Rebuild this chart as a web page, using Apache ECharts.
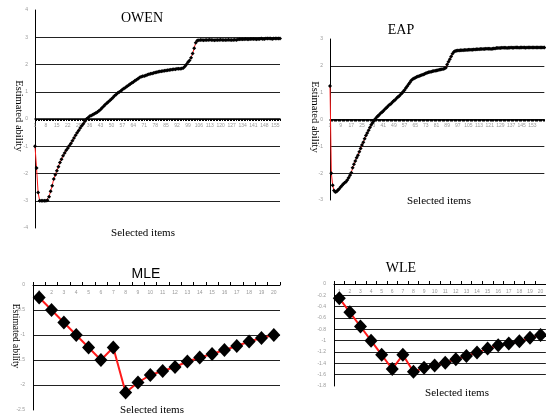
<!DOCTYPE html>
<html><head><meta charset="utf-8">
<script src="https://cdn.jsdelivr.net/npm/echarts@6/dist/echarts.min.js"></script>
<style>html,body{margin:0;padding:0;background:#fff}#c{width:546px;height:415px}</style>
</head><body><div id="c"></div>
<script>
// ---- data ----
const owenValues = [
-1.0,-1.8,-2.7,-3.0,-3.0,-3.0,-3.0,-3.0,-2.98,-2.85,
-2.65,-2.45,-2.2,-2.05,-1.9,-1.75,-1.6,-1.48,-1.35,-1.25,
-1.15,-1.07,-0.98,-0.9,-0.8,-0.7,-0.6,-0.5,-0.42,-0.33,
-0.25,-0.17,-0.08,0.0,0.05,0.1,0.13,0.16,0.19,0.22,
0.26,0.3,0.35,0.41,0.47,0.53,0.58,0.63,0.68,0.73,
0.79,0.85,0.9,0.95,0.99,1.03,1.08,1.12,1.16,1.2,
1.24,1.28,1.32,1.36,1.4,1.44,1.48,1.52,1.55,1.57,
1.58,1.6,1.62,1.64,1.66,1.67,1.69,1.71,1.72,1.73,
1.74,1.75,1.76,1.77,1.78,1.79,1.8,1.81,1.82,1.83,
1.83,1.84,1.84,1.84,1.85,1.87,1.93,2.0,2.08,2.15,
2.25,2.4,2.6,2.8,2.88,2.89,2.9,2.9,2.89,2.9,
2.9,2.9,2.91,2.9,2.9,2.89,2.9,2.9,2.9,2.91,
2.9,2.9,2.9,2.9,2.91,2.9,2.9,2.9,2.91,2.9,
2.92,2.93,2.93,2.93,2.93,2.94,2.93,2.93,2.94,2.94,
2.94,2.94,2.93,2.94,2.94,2.95,2.94,2.94,2.95,2.95,
2.95,2.95,2.94,2.95,2.95,2.95,2.95,2.95
];
const eapValues = [
1.25,-2.0,-2.45,-2.65,-2.7,-2.68,-2.63,-2.58,-2.52,-2.46,
-2.4,-2.36,-2.32,-2.25,-2.17,-2.08,-1.98,-1.8,-1.67,-1.55,
-1.43,-1.33,-1.2,-1.08,-0.95,-0.85,-0.72,-0.6,-0.5,-0.4,
-0.3,-0.2,-0.12,-0.05,0.02,0.08,0.13,0.18,0.23,0.27,
0.32,0.37,0.42,0.47,0.52,0.56,0.6,0.65,0.7,0.74,
0.79,0.84,0.88,0.93,0.98,1.04,1.1,1.17,1.24,1.31,
1.38,1.45,1.5,1.53,1.56,1.58,1.6,1.62,1.64,1.66,
1.68,1.7,1.72,1.74,1.76,1.77,1.78,1.8,1.81,1.82,
1.83,1.84,1.85,1.86,1.87,1.88,1.9,1.93,2.05,2.15,
2.25,2.35,2.45,2.52,2.55,2.56,2.57,2.57,2.58,2.58,
2.58,2.59,2.59,2.59,2.6,2.6,2.6,2.6,2.61,2.61,
2.62,2.62,2.62,2.63,2.63,2.63,2.63,2.64,2.64,2.64,
2.64,2.63,2.64,2.65,2.65,2.66,2.66,2.66,2.66,2.67,
2.67,2.67,2.67,2.66,2.67,2.67,2.68,2.67,2.67,2.68,
2.68,2.68,2.67,2.68,2.68,2.68,2.68,2.67,2.68,2.68,
2.68,2.68,2.68,2.68,2.68,2.68,2.68,2.68,2.68,2.68,
2.68,2.68
];
const mleValues = [-0.25,-0.5,-0.75,-1.0,-1.25,-1.5,-1.25,-2.15,-1.95,-1.8,-1.72,-1.64,-1.53,-1.45,-1.38,-1.3,-1.22,-1.13,-1.06,-1.0];
const wleValues = [-0.25,-0.5,-0.75,-1.0,-1.25,-1.5,-1.25,-1.55,-1.48,-1.44,-1.39,-1.33,-1.27,-1.21,-1.14,-1.08,-1.05,-1.01,-0.95,-0.9];
const owenItems = owenValues.map((_, i) => String(i + 1));
const eapItems = eapValues.map((_, i) => String(i + 1));
const mleItems = mleValues.map((_, i) => String(i + 1));
const wleItems = wleValues.map((_, i) => String(i + 1));
const lastEapLabel = 153;
const titles = ['OWEN', 'EAP', 'MLE', 'WLE'];
const xName = 'Selected items';
const yName = 'Estimated ability';

// ---- chart ----
const chart = echarts.init(document.getElementById('c'), null, {renderer: 'canvas'});
const serif = '"Liberation Serif", "Times New Roman", serif';
const tickLbl = {fontSize: 5, color: '#999', fontFamily: 'Liberation Sans'};
function yAx(gi, min, max, interval, margin) {
  return {
    gridIndex: gi, type: 'value', min, max, interval,
    axisLine: {show: true, lineStyle: {color: '#000', width: 1}},
    axisTick: {show: false},
    axisLabel: Object.assign({margin: margin}, tickLbl),
    splitLine: {show: true, showMinLine: false, showMaxLine: false, lineStyle: {color: '#222', width: 1}}
  };
}
function xBig(gi, data, labInt, offset, maxLab) {
  return {
    gridIndex: gi, type: 'category', data, boundaryGap: false, position: 'bottom', offset: offset,
    axisLine: {onZero: false, lineStyle: {color: '#000', width: 1.5}},
    axisTick: {show: true, interval: 0, length: 2, inside: false, lineStyle: {color: '#000'}},
    axisLabel: Object.assign({interval: labInt, margin: 4,
      formatter: (v) => (maxLab && +v > maxLab) ? '' : v}, tickLbl),
    splitLine: {show: false}
  };
}
function xSmall(gi, data) {
  return {
    gridIndex: gi, type: 'category', data, boundaryGap: true, position: 'top',
    axisLine: {onZero: false, lineStyle: {color: '#000', width: 1}},
    axisTick: {show: true, interval: 0, length: 3, inside: false, lineStyle: {color: '#000'}},
    axisLabel: Object.assign({interval: 0, inside: true, margin: 5}, tickLbl),
    splitLine: {show: false}
  };
}
function lineSeries(gi, data, size, lw) {
  return {
    type: 'line', xAxisIndex: gi, yAxisIndex: gi, data,
    symbol: 'diamond', symbolSize: size, showAllSymbol: true,
    itemStyle: {color: '#000'}, lineStyle: {color: '#ff1a1a', width: lw},
    emphasis: {disabled: true}, animation: false, z: 3
  };
}
function txt(x, y, text, size, font, rot) {
  return {
    type: 'text', x, y, rotation: rot || 0,
    style: {text, fontSize: size, fontFamily: font || serif, fill: '#000', align: 'center', verticalAlign: 'middle'},
    z: 10
  };
}
chart.setOption({
  animation: false,
  grid: [
    {left: 35, top: 10, width: 245, height: 218},
    {left: 330, top: 39, width: 216, height: 161},
    {left: 33, top: 285, width: 247, height: 125},
    {left: 334, top: 284, width: 226, height: 102}
  ],
  xAxis: [xBig(0, owenItems, 6, -109), xBig(1, eapItems, 7, -80.5, lastEapLabel), xSmall(2, mleItems), xSmall(3, wleItems)],
  yAxis: [yAx(0, -4, 4, 1, 7), yAx(1, -3, 3, 1, 7), yAx(2, -2.5, 0, 0.5, 8), yAx(3, -1.8, 0, 0.2, 8)],
  series: [
    lineSeries(0, owenValues, 4, 1),
    lineSeries(1, eapValues, 4, 1),
    lineSeries(2, mleValues, [13, 14], 2),
    lineSeries(3, wleValues, [13, 14], 2)
  ],
  graphic: [
    txt(142, 18, titles[0], 14),
    txt(401, 30, titles[1], 14),
    txt(146, 274, titles[2], 14, '"Liberation Sans", Arial, sans-serif'),
    txt(401, 268, titles[3], 14),
    txt(143, 233, xName, 11),
    txt(439, 201, xName, 11),
    txt(152, 410, xName, 11),
    txt(457, 393, xName, 11),
    txt(19, 116, yName, 10.5, null, -Math.PI / 2),
    txt(315, 117, yName, 10.5, null, -Math.PI / 2),
    txt(15, 336, yName, 9.5, null, -Math.PI / 2)
  ]
});
</script></body></html>
